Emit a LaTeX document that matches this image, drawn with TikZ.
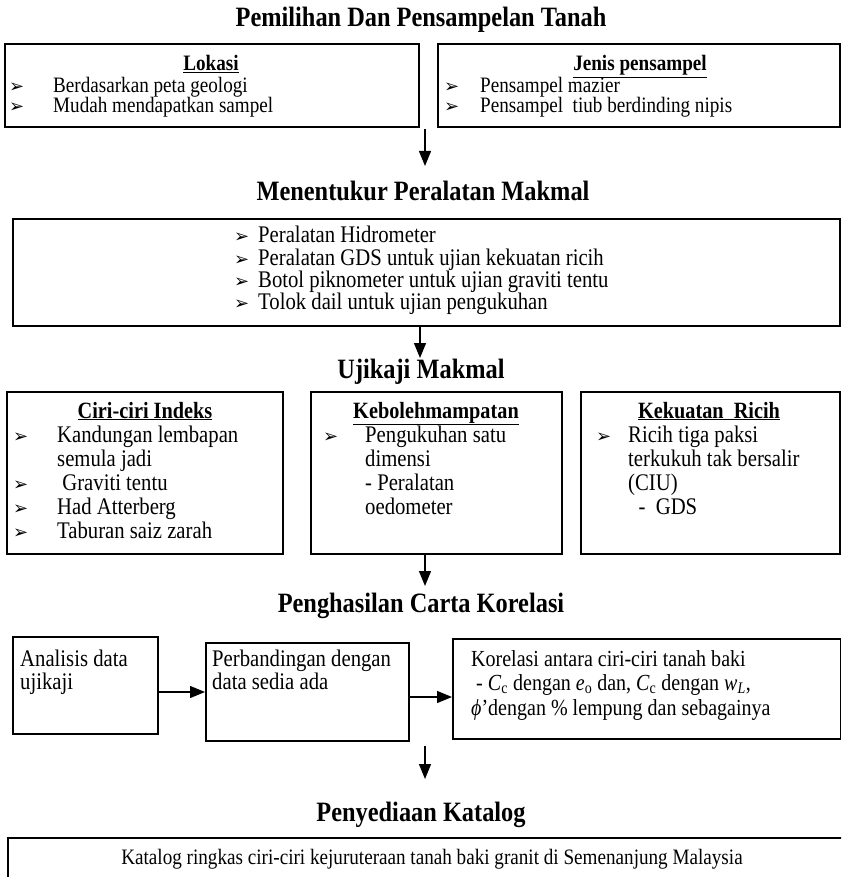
\documentclass[tikz,border=0pt]{standalone}
\usepackage{fontspec}
\setmainfont{Liberation Serif}[FakeStretch=0.87]
\newfontfamily\dejavu{DejaVu Sans}
\usetikzlibrary{arrows.meta}
\newcommand\bulmark{{\dejavu\fontsize{18}{18}\selectfont ➢}}
\begin{document}
\begin{tikzpicture}[x=1pt,y=-1pt,
  box/.style={draw, line width=1.7pt, inner sep=0, anchor=north west},
  arr/.style={line width=1.3pt, -{Triangle[length=15pt,width=12pt]}},
  ttl/.style={font=\fontsize{28}{30}\selectfont\bfseries, inner sep=0, anchor=base},
  txt/.style={font=\fontsize{22}{24}\selectfont, anchor=base west, inner sep=0},
  txtb/.style={font=\fontsize{23.8}{25}\selectfont, anchor=base west, inner sep=0},
  txtk/.style={font=\fontsize{23}{24}\selectfont, anchor=base west, inner sep=0},
  ctxt/.style={font=\fontsize{22}{24}\selectfont, anchor=base, inner sep=0},
  hd/.style={font=\fontsize{22}{24}\selectfont\bfseries, anchor=base, inner sep=0},
  hdb/.style={font=\fontsize{23.3}{25}\selectfont\bfseries, anchor=base, inner sep=0},
  bl/.style={anchor=base west, inner sep=0}]
\useasboundingbox (0,0) rectangle (841,877);
\clip (0,0) rectangle (841,877);

% ---------- Section 1
\node[ttl] (t1) at (421,27) {Pemilihan Dan Pensampelan Tanah};
\node[box, minimum width=414pt, minimum height=83pt] (lok) at (4,43) {};
\node[box, minimum width=402pt, minimum height=83pt] (jen) at (437,43) {};
\node[hd] (lokh) at (211,71) {\underline{Lokasi}};
\node[bl] (lokb1) at (9,93) {\bulmark};
\node[txt] (lok1) at (53,93) {Berdasarkan peta geologi};
\node[bl] (lokb2) at (9,113) {\bulmark};
\node[txt] (lok2) at (53,113) {Mudah mendapatkan sampel};
\node[hd] (jenh) at (640,71) {\underline{Jenis pensampel}};
\node[bl] (jenb1) at (444,93) {\bulmark};
\node[txt] (jen1) at (480,93) {Pensampel mazier};
\node[bl] (jenb2) at (444,113) {\bulmark};
\node[txt] (jen2) at (480,113) {Pensampel\ \ tiub berdinding nipis};
\coordinate (a1s) at (425,129);
\coordinate (a1e) at (425,166);
\draw[arr] (a1s) -- (a1e);

% ---------- Section 2
\node[ttl] (t2) at (423,201) {Menentukur Peralatan Makmal};
\node[box, minimum width=827pt, minimum height=107pt] (peral) at (12,218) {};
\node[bl] (pb1) at (234,243) {\bulmark};
\node[txtb] (p1) at (258,243) {Peralatan Hidrometer};
\node[bl] (pb2) at (234,265) {\bulmark};
\node[txtb] (p2) at (258,265) {Peralatan GDS untuk ujian kekuatan ricih};
\node[bl] (pb3) at (234,287) {\bulmark};
\node[txtb] (p3) at (258,287) {Botol piknometer untuk ujian graviti tentu};
\node[bl] (pb4) at (234,309) {\bulmark};
\node[txtb] (p4) at (258,309) {Tolok dail untuk ujian pengukuhan};
\coordinate (a2s) at (420,325);
\coordinate (a2e) at (420,358);
\draw[arr] (a2s) -- (a2e);

% ---------- Section 3
\node[ttl] (t3) at (421,378) {Ujikaji Makmal};
\node[box, minimum width=276pt, minimum height=162pt] (ciri) at (6,391) {};
\node[box, minimum width=251pt, minimum height=162pt] (keb) at (310,391) {};
\node[box, minimum width=259pt, minimum height=162pt] (kek) at (580,391) {};
\node[hdb] (cirih) at (145,418) {\underline{Ciri-ciri Indeks}};
\node[bl] (cb1) at (13,442) {\bulmark};
\node[txtb] (c1) at (57,442) {Kandungan lembapan};
\node[txtb] (c1b) at (57,466) {semula jadi};
\node[bl] (cb2) at (13,490) {\bulmark};
\node[txtb] (c2) at (57,490) {\ Graviti tentu};
\node[bl] (cb3) at (13,514) {\bulmark};
\node[txtb] (c3) at (57,514) {Had Atterberg};
\node[bl] (cb4) at (13,538) {\bulmark};
\node[txtb] (c4) at (57,538) {Taburan saiz zarah};
\node[hdb] (kebh) at (436,418) {\underline{Kebolehmampatan}};
\node[bl] (kb1) at (323,442) {\bulmark};
\node[txtb] (k1) at (365,442) {Pengukuhan satu};
\node[txtb] (k2) at (365,466) {dimensi};
\node[txtb] (k3) at (365,490) {- Peralatan};
\node[txtb] (k4) at (365,514) {oedometer};
\node[hdb] (kekh) at (709,418) {\underline{Kekuatan\ \ Ricih}};
\node[bl] (rb1) at (596,442) {\bulmark};
\node[txtb] (r1) at (628,442) {Ricih tiga paksi};
\node[txtb] (r2) at (628,466) {terkukuh tak bersalir};
\node[txtb] (r3) at (628,490) {(CIU)};
\node[txtb] (r4) at (628,514) {\ \ -\ \ GDS};
\coordinate (a3s) at (425,553);
\coordinate (a3e) at (425,586);
\draw[arr] (a3s) -- (a3e);

% ---------- Section 4
\node[ttl] (t4) at (421,612) {Penghasilan Carta Korelasi};
\node[box, minimum width=145pt, minimum height=97pt] (anal) at (12,636) {};
\node[box, minimum width=203pt, minimum height=98pt] (perb) at (205,642) {};
\node[box, minimum width=387.5pt, minimum height=100pt] (kor) at (452,638) {};
\node[txtb] (an1) at (20,666) {Analisis data};
\node[txtb] (an2) at (20,689) {ujikaji};
\node[txtb] (pe1) at (212,666) {Perbandingan dengan};
\node[txtb] (pe2) at (212,689) {data sedia ada};
\node[txtk] (ko1) at (471,666) {Korelasi antara ciri-ciri tanah baki};
\node[txtk] (ko2) at (476,690) {- \textit{C}\textsubscript{c} dengan \textit{e}\textsubscript{o} dan, \textit{C}\textsubscript{c} dengan \textit{w}\textsubscript{\textit{L}},};
\node[txtk] (ko3) at (471,715) {\textit{ϕ}’dengan \% lempung dan sebagainya};
\draw[arr] (anal.east |- 0,692) -- (perb.west |- 0,692);
\draw[arr] (perb.east |- 0,697) -- (kor.west |- 0,697);
\coordinate (a6s) at (425,746);
\coordinate (a6e) at (425,779);
\draw[arr] (a6s) -- (a6e);

% ---------- Section 5
\node[ttl] (t5) at (421,821) {Penyediaan Katalog};
\node[box, minimum width=845pt, minimum height=80pt] (kat) at (7,837) {};
\node[ctxt] (kat1) at (432,864) {Katalog ringkas ciri-ciri kejuruteraan tanah baki granit di Semenanjung Malaysia};
\end{tikzpicture}
\end{document}
